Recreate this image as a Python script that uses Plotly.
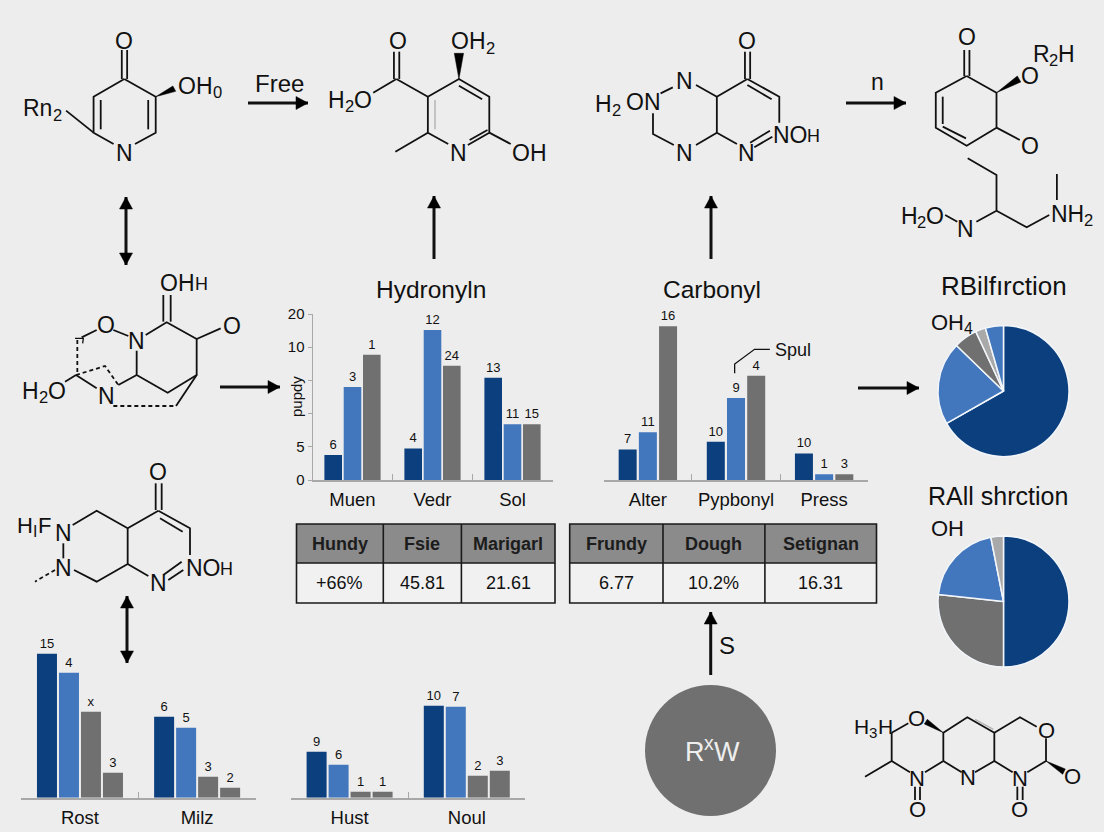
import plotly.graph_objects as go

W, H = 1104, 832
BG = "#ededed"
DARK, MID, GREY, LIGHT = "#0c3f7e", "#4377bd", "#707070", "#a9a9a9"
INK = "#111111"
FONT = "Liberation Sans"

# ---------- chart data ----------
hyd_cats = ["Muen", "Vedr", "Sol"]
hyd_dark = [0.75, 0.95, 3.08]
hyd_mid = [2.8, 4.52, 1.68]
hyd_grey = [3.77, 3.44, 1.68]
hyd_dark_lbl = ["6", "4", "13"]
hyd_mid_lbl = ["3", "12", "11"]
hyd_grey_lbl = ["1", "24", "15"]
hyd_tick_vals = [0, 1, 4, 5]
hyd_minor_vals = [2, 3]
hyd_tick_text = ["0", "5", "10", "20"]

car_cats = ["Alter", "Pypbonyl", "Press"]
car_dark = [0.92, 1.15, 0.80]
car_mid = [1.44, 2.47, 0.17]
car_grey = [4.63, 3.14, 0.17]
car_dark_lbl = ["7", "10", "10"]
car_mid_lbl = ["11", "9", "1"]
car_grey_lbl = ["16", "4", "3"]

bl_cats = ["Rost", "Milz"]
bl_a = [14.4, 8.1]
bl_b = [12.5, 7.0]
bl_c = [8.6, 2.1]
bl_d = [2.5, 1.0]
bl_lbls = [["15", "6"], ["4", "5"], ["x", "3"], ["3", "2"]]

bm_cats = ["Hust", "Noul"]
bm_a = [4.6, 9.2]
bm_b = [3.3, 9.1]
bm_c = [0.6, 2.2]
bm_d = [0.6, 2.7]
bm_lbls = [["9", "10"], ["6", "7"], ["1", "2"], ["1", "3"]]

pie1_vals = [66.75, 20.5, 5.8, 2.5, 4.45]
pie1_cols = [DARK, MID, GREY, LIGHT, MID]
pie2_vals = [50, 26.7, 20.2, 3.1]
pie2_cols = [DARK, GREY, MID, LIGHT]

t1_head = ["Hundy", "Fsie", "Marigarl"]
t1_row = ["+66%", "45.81", "21.61"]
t2_head = ["Frundy", "Dough", "Setignan"]
t2_row = ["6.77", "10.2%", "16.31"]

fig = go.Figure()
layout = {}
axn = [1]


def dom_x(a, b):
    return [a / W, b / W]


def dom_y(top, bottom):
    return [1 - bottom / H, 1 - top / H]


def panel(x0, x1, top, base, ymax, cats, series, colors, labels, bar_px, pitch_px,
          tick_size=18.5, standoff=2, yaxis_vis=False):
    axn[0] += 1
    n = axn[0]
    layout[f"xaxis{n}"] = dict(
        domain=dom_x(x0, x1), anchor=f"y{n}", type="category", categoryorder="array",
        categoryarray=cats, range=[-0.5, len(cats) - 0.5], showline=True,
        linecolor="#a8a8a8", linewidth=1.5, ticks="inside", tickson="boundaries",
        ticklen=6, tickcolor="#a8a8a8", tickwidth=1, showgrid=False, zeroline=False,
        tickfont=dict(family=FONT, size=tick_size, color=INK), ticklabelstandoff=standoff,
        fixedrange=True,
    )
    ya = dict(domain=dom_y(top, base), anchor=f"x{n}", range=[0, ymax], showgrid=False,
              zeroline=False, fixedrange=True)
    if yaxis_vis:
        ya.update(showline=True, linecolor="#a8a8a8", linewidth=1, ticks="outside",
                  ticklen=4, tickcolor="#a8a8a8", tickvals=hyd_tick_vals,
                  ticktext=hyd_tick_text, tickfont=dict(family=FONT, size=15, color=INK),
                  minor=dict(tickvals=hyd_minor_vals, ticks="outside", ticklen=4,
                             tickcolor="#a8a8a8"))
    else:
        ya.update(visible=False)
    layout[f"yaxis{n}"] = ya
    band = (x1 - x0) / len(cats)
    m = len(series)
    for i, (vals, col, lbl) in enumerate(zip(series, colors, labels)):
        w = bar_px / band
        off = (i - (m - 1) / 2) * pitch_px / band - w / 2
        fig.add_trace(go.Bar(
            x=cats, y=vals, text=lbl, textposition="outside", cliponaxis=False,
            constraintext="none", textangle=0,
            textfont=dict(family=FONT, size=13, color=INK), marker=dict(color=col, line_width=0),
            width=w, offset=off, xaxis=f"x{n}", yaxis=f"y{n}", showlegend=False, hoverinfo="skip",
        ))


panel(312.5, 552.5, 314, 480, 5, hyd_cats, [hyd_dark, hyd_mid, hyd_grey], [DARK, MID, GREY],
      [hyd_dark_lbl, hyd_mid_lbl, hyd_grey_lbl], 17.6, 19.3, yaxis_vis=True)
panel(603.8, 868.2, 314, 480, 5, car_cats, [car_dark, car_mid, car_grey], [DARK, MID, GREY],
      [car_dark_lbl, car_mid_lbl, car_grey_lbl], 18, 20.2)
panel(21.4, 255.7, 640, 797.7, 15.77, bl_cats, [bl_a, bl_b, bl_c, bl_d], [DARK, MID, GREY, GREY],
      bl_lbls, 20, 22)
panel(291, 525.4, 640, 797.7, 15.77, bm_cats, [bm_a, bm_b, bm_c, bm_d], [DARK, MID, GREY, GREY],
      bm_lbls, 20, 22)


# ---------- pies ----------
def pie(cx, cy, r, vals, cols):
    fig.add_trace(go.Pie(
        values=vals, sort=False, direction="clockwise", rotation=0, textinfo="none",
        marker=dict(colors=cols, line=dict(color="#f2f6fb", width=1.5)),
        domain=dict(x=dom_x(cx - r, cx + r), y=dom_y(cy - r, cy + r)),
        showlegend=False, hoverinfo="skip",
    ))


pie(1003.5, 391, 65.5, pie1_vals, pie1_cols)
pie(1003.5, 601.5, 65.5, pie2_vals, pie2_cols)

# ---------- overlay in page pixels for the diagrams ----------
layout["xaxis"] = dict(domain=[0, 1], range=[0, W], visible=False, fixedrange=True)
layout["yaxis"] = dict(domain=[0, 1], range=[H, 0], visible=False, fixedrange=True)

Z2 = (0, 0, 2.8, 3)
Z3 = (560, 0, 2.882, 3)
Z4 = (0, 260, 3, 3)
Z7 = (620, 600, 3, 3)
Z1 = (280, 270, 2.613, 3)


def P(z, x, y):
    return z[0] + x / z[2], z[1] + y / z[3]


bond_x, bond_y, thin_x, thin_y, dash_x, dash_y, pale_x, pale_y = [], [], [], [], [], [], [], []
fill_x, fill_y, arrow_x, arrow_y = [], [], [], []


def bonds(z, segs, xs=bond_x, ys=bond_y):
    for s in segs:
        for i in range(0, len(s), 2):
            px, py = P(z, s[i], s[i + 1])
            xs.append(px)
            ys.append(py)
        xs.append(None)
        ys.append(None)


def poly(z, pts):
    for p in pts:
        px, py = P(z, *p)
        fill_x.append(px)
        fill_y.append(py)
    px, py = P(z, *pts[0])
    fill_x.append(px)
    fill_y.append(py)
    fill_x.append(None)
    fill_y.append(None)


def arrow(x0, y0, x1, y1, both=False):
    def head(ax, ay, bx, by):
        d = ((bx - ax) ** 2 + (by - ay) ** 2) ** .5
        ux, uy = (bx - ax) / d, (by - ay) / d
        fill_x.extend([bx, bx - 12 * ux - 6.5 * uy, bx - 12 * ux + 6.5 * uy, bx, None])
        fill_y.extend([by, by - 12 * uy + 6.5 * ux, by - 12 * uy - 6.5 * ux, by, None])
    arrow_x.extend([x0, x1, None])
    arrow_y.extend([y0, y1, None])
    head(x0, y0, x1, y1)
    if both:
        head(x1, y1, x0, y0)


ann = []
shapes = []


def T(x, y, s, size=23, anchor="center", color=INK, angle=0):
    ann.append(dict(x=x, y=y, text=s, xref="x", yref="y", showarrow=False, xanchor=anchor,
                    yanchor="middle", font=dict(family=FONT, size=size, color=color),
                    textangle=angle))


def TZ(z, x, y, s, size=23, anchor="center"):
    px, py = P(z, x, y)
    T(px, py, s, size, anchor)


GLYPH = {"O": .778, "H": .722, "R": .722, "N": .722, "F": .611, "n": .556, "I": .278, "x": .5,
         "W": .944, "0": .556, "2": .556, "3": .556, "4": .556}


def chem(x, y, parts, size=23, color=INK):
    """Left-aligned label built of (text, shift) runs: shift 0 normal, 1 subscript, -1 superscript, 2 small."""
    cx = x
    for s, kind in parts:
        sz = {0: size, 1: size * .72, -1: size * .72, 2: size * .78}[kind]
        dy = {0: 0, 1: size * .30, -1: -size * .34, 2: 1}[kind]
        T(cx, y + dy, s, sz, "left", color)
        cx += sum(GLYPH[c] for c in s) * sz


def CZ(z, x, y, parts, size=23):
    px, py = P(z, x, y)
    chem(px, py, parts, size)


# ---------- tables ----------
def table(edges, top, mid, bottom, head, row):
    shapes.append(dict(type="rect", xref="x", yref="y", x0=edges[0], x1=edges[-1], y0=top, y1=mid,
                       fillcolor="#8b8b8b", line_width=0, layer="below"))
    shapes.append(dict(type="rect", xref="x", yref="y", x0=edges[0], x1=edges[-1], y0=mid, y1=bottom,
                       fillcolor="#f1f1f1", line_width=0, layer="below"))
    shapes.append(dict(type="rect", xref="x", yref="y", x0=edges[0], x1=edges[-1], y0=top, y1=bottom,
                       line=dict(color="#1a1a1a", width=1.6)))
    shapes.append(dict(type="line", xref="x", yref="y", x0=edges[0], x1=edges[-1], y0=mid, y1=mid,
                       line=dict(color="#1a1a1a", width=1.6)))
    for e in edges[1:-1]:
        shapes.append(dict(type="line", xref="x", yref="y", x0=e, x1=e, y0=top, y1=bottom,
                           line=dict(color="#1a1a1a", width=1.6)))
    for i in range(3):
        c = (edges[i] + edges[i + 1]) / 2
        T(c, (top + mid) / 2, f"<b>{head[i]}</b>", 18, color="#1c1c1c")
        T(c, (mid + bottom) / 2, row[i], 18)


table([296.5, 383.3, 461.4, 555], 524, 563, 603, t1_head, t1_row)
table([569.7, 663, 764.9, 876.5], 524, 563, 603, t2_head, t2_row)

# structure 1
bonds(Z2, [(348, 237, 436, 290, 436, 398, 378, 432), (318, 432, 262, 398, 262, 290, 348, 237),
           (415, 300, 415, 388), (282, 300, 282, 388), (341, 237, 341, 150), (356, 237, 356, 150),
           (262, 398, 185, 332)])
poly(Z2, [(436, 290), (484, 258), (492, 274)])
TZ(Z2, 348, 122, "O")
TZ(Z2, 348, 460, "N")
CZ(Z2, 493, 258, [("OH", 0), ("0", 1)])
CZ(Z2, 60, 325, [("Rn", 0), ("2", 1)])
T(279, 83, "Free", 24)
arrow(248, 103, 308, 103)
arrow(126, 197, 126, 265, both=True)

# structure 2
bonds(Z2, [(1198, 290, 1285, 237, 1370, 290, 1370, 398, 1310, 435), (1255, 432, 1198, 398, 1198, 290),
           (1285, 257, 1350, 298), (1315, 420, 1365, 390), (1198, 398, 1107, 455), (1370, 398, 1430, 432),
           (1103, 237, 1103, 155), (1118, 237, 1118, 155), (1110, 237, 1045, 278), (1110, 237, 1198, 290)])
bonds(Z2, [(1218, 300, 1218, 388)], pale_x, pale_y)
poly(Z2, [(1285, 237), (1272, 160), (1298, 160)])
TZ(Z2, 1113, 122, "O")
CZ(Z2, 1258, 124, [("OH", 0), ("2", 1)])
CZ(Z2, 913, 300, [("H", 0), ("2", 1), ("O", 0)])
TZ(Z2, 1283, 460, "N")
TZ(Z2, 1428, 458, "OH", 23, "left")
arrow(434, 259, 434, 196)

# structure 3
bonds(Z3, [(540, 237, 452, 290, 452, 398, 510, 432), (540, 237, 632, 290, 632, 368), (540, 255, 610, 298),
           (548, 428, 605, 392), (560, 442, 612, 410), (452, 290, 392, 255), (325, 262, 290, 280),
           (268, 340, 268, 402, 328, 435), (392, 435, 452, 398), (533, 237, 533, 155), (548, 237, 548, 155)])
TZ(Z3, 540, 122, "O")
CZ(Z3, 95, 312, [("H", 0), ("2", 1)])
TZ(Z3, 185, 305, "ON", 23, "left")
TZ(Z3, 360, 243, "N")
TZ(Z3, 360, 460, "N")
TZ(Z3, 538, 460, "N")
CZ(Z3, 608, 405, [("NO", 0), ("H", 2)])
arrow(711, 259, 711, 196)

# structure 4
bonds(Z3, [(1172, 228, 1258, 278, 1258, 383, 1172, 437, 1083, 383, 1083, 278, 1172, 228),
           (1103, 290, 1103, 372), (1103, 380, 1170, 415), (1165, 228, 1165, 150), (1180, 228, 1180, 150),
           (1258, 383, 1325, 420), (1175, 475, 1258, 525, 1258, 632, 1200, 665), (1258, 632, 1345, 682, 1410, 645),
           (1432, 522, 1432, 600), (1110, 645, 1145, 665)])
poly(Z3, [(1258, 278), (1318, 228), (1328, 246)])
TZ(Z3, 1172, 112, "O")
TZ(Z3, 1355, 228, "O")
TZ(Z3, 1355, 437, "O")
CZ(Z3, 1356, 162, [("R", 0), ("2", 1), ("H", 0)])
CZ(Z3, 976, 647, [("H", 0), ("2", 1), ("O", 0)])
TZ(Z3, 1170, 688, "N")
CZ(Z3, 1410, 642, [("NH", 0), ("2", 1)])
T(877, 82, "n", 23)
arrow(846, 103, 906, 103)

# structure 5
bonds(Z4, [(490, 185, 490, 105), (512, 185, 512, 105), (437, 225, 500, 187, 590, 237, 590, 345, 503, 398, 410, 345, 410, 272),
           (590, 237, 662, 205), (340, 210, 385, 228), (290, 210, 245, 232), (228, 345, 195, 365), (228, 345, 290, 385),
           (355, 375, 410, 345), (528, 438, 590, 345)])
bonds(Z4, [(340, 438, 528, 438), (228, 345, 315, 318, 355, 375), (232, 240, 232, 345)], dash_x, dash_y)
bonds(Z4, [(225, 235, 250, 235, 248, 250)], thin_x, thin_y)
CZ(Z4, 475, 68, [("OH", 0), ("H", 2)])
TZ(Z4, 695, 197, "O")
TZ(Z4, 318, 195, "O")
TZ(Z4, 408, 243, "N")
CZ(Z4, 60, 392, [("H", 0), ("2", 1), ("O", 0)])
TZ(Z4, 318, 407, "N")
arrow(220, 387, 280, 387)

# structure 6
bonds(Z4, [(467, 750, 467, 670), (485, 750, 485, 670), (475, 752, 383, 805, 290, 752, 218, 795), (190, 850, 190, 895),
           (222, 930, 290, 965, 383, 912, 383, 805), (383, 912, 445, 948), (475, 752, 570, 805, 570, 885),
           (480, 775, 548, 815), (490, 945, 545, 905), (505, 960, 550, 930)])
bonds(Z4, [(165, 930, 105, 965)], dash_x, dash_y)
TZ(Z4, 475, 635, "O")
TZ(Z4, 190, 820, "N")
TZ(Z4, 190, 925, "N")
TZ(Z4, 475, 970, "N")
CZ(Z4, 46, 795, [("H", 0), ("I", 1), ("F", 0)], 22)
CZ(Z4, 551, 925, [("NO", 0), ("H", 2)])
arrow(127, 596, 127, 663, both=True)

# structure 7
bonds(Z7, [(815, 398, 865, 370), (815, 398, 815, 483, 735, 530), (815, 483, 870, 517), (915, 517, 970, 483, 970, 398, 1042, 352, 1123, 398, 1123, 483),
           (970, 483, 1025, 517), (1065, 517, 1123, 483, 1178, 517), (1222, 517, 1278, 483, 1278, 415), (1250, 380, 1200, 352, 1123, 398),
           (885, 560, 885, 600), (900, 560, 900, 600), (1192, 560, 1192, 600), (1208, 560, 1208, 600)])
bonds(Z7, [(1065, 358, 1120, 388)], pale_x, pale_y)
poly(Z7, [(970, 398), (913, 372), (922, 358)])
poly(Z7, [(1278, 483), (1328, 523), (1336, 507)])
CZ(Z7, 696, 378, [("H", 0), ("3", 1), ("H", 0)], 21)
TZ(Z7, 890, 354, "O", 22)
TZ(Z7, 892, 535, "N", 22)
TZ(Z7, 1045, 533, "N", 22)
TZ(Z7, 1200, 535, "N", 22)
TZ(Z7, 1278, 390, "O", 22)
TZ(Z7, 1358, 530, "O", 22)
TZ(Z7, 892, 628, "O", 22)
TZ(Z7, 1198, 628, "O", 22)
arrow(710.7, 675, 710.7, 612)
T(727, 645, "S", 24)

# circle node
shapes.append(dict(type="circle", xref="x", yref="y", x0=645, x1=776, y0=685, y1=816,
                   fillcolor=GREY, line_width=0, layer="below"))
chem(683, 752, [("R", 0), ("x", -1), ("W", 0)], 27, "#eeeeee")

# callout
bonds(Z1, [(1188, 310, 1188, 282, 1240, 238, 1280, 238)], thin_x, thin_y)
T(773, 350, "Spul", 18, "left")

# arrow to pie
arrow(858, 388, 919, 388)

# titles and notes
T(431, 289, "Hydronyln", 24.5)
T(712, 289, "Carbonyl", 24.5)
T(1004, 286, "RBilfırction", 26)
T(998, 496, "RAll shrction", 25)
chem(929, 322, [("OH", 0), ("4", 1)], 22)
T(929, 528, "OH", 22, "left")
T(296, 397, "pupdy", 15, angle=-90)


def lines(xs, ys, w, col=INK, dash="solid"):
    fig.add_trace(go.Scatter(x=xs, y=ys, mode="lines", line=dict(color=col, width=w, dash=dash),
                             xaxis="x", yaxis="y", showlegend=False, hoverinfo="skip"))


lines(bond_x, bond_y, 1.8)
lines(pale_x, pale_y, 1.5, "#b5b5b5")
lines(thin_x, thin_y, 1.3)
lines(dash_x, dash_y, 1.8, dash="4px,3px")
lines(arrow_x, arrow_y, 3)
fig.add_trace(go.Scatter(x=fill_x, y=fill_y, mode="lines", fill="toself", fillcolor="#000000",
                         line=dict(color="#000000", width=0.5), xaxis="x", yaxis="y",
                         showlegend=False, hoverinfo="skip"))

fig.update_layout(width=W, height=H, margin=dict(l=0, r=0, t=0, b=0, pad=0, autoexpand=False),
                  paper_bgcolor=BG, plot_bgcolor="rgba(0,0,0,0)", annotations=ann, shapes=shapes,
                  showlegend=False, font=dict(family=FONT), **layout)
fig.write_html("out.html", config=dict(displayModeBar=False),
               post_script="document.body.style.margin='0';document.body.style.overflow='hidden';")
